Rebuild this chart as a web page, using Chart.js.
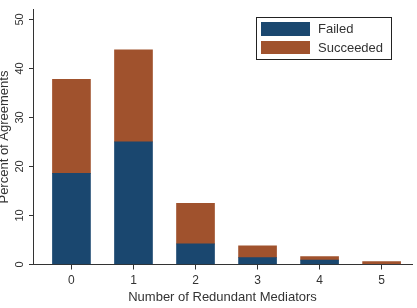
<!DOCTYPE html>
<html>
<head>
<meta charset="utf-8">
<script src="https://cdn.jsdelivr.net/npm/chart.js@4/dist/chart.umd.min.js"></script>
<style>
  html, body { margin: 0; padding: 0; background: #fff; }
</style>
</head>
<body>
<canvas id="chart" width="417" height="308"></canvas>
<script>
// number of redundant mediators on the x axis
const mediators = [0, 1, 2, 3, 4, 5];
// percent of agreements, stacked
const failed = [18.6, 25.0, 4.2, 1.4, 0.9, 0];
const succeeded = [19.2, 18.8, 8.3, 2.4, 0.7, 0.6];
const yTicks = [0, 10, 20, 30, 40, 50];

const navy = '#1a476f';
const sienna = '#a0522d';
const axisColor = '#333';

Chart.defaults.font.family = '"Liberation Sans", Arial, sans-serif';
Chart.defaults.color = '#333';

// boxed legend in the top right corner, like the Stata original
const boxLegend = {
  id: 'boxLegend',
  afterDraw(chart) {
    const ctx = chart.ctx;
    ctx.save();
    ctx.strokeStyle = '#222';
    ctx.lineWidth = 1;
    ctx.strokeRect(256.5, 17.5, 135, 42);
    const rows = [{ y: 22, h: 14 }, { y: 41, h: 13 }];
    ctx.font = '13px "Liberation Sans", Arial, sans-serif';
    ctx.textBaseline = 'middle';
    ctx.textAlign = 'left';
    chart.data.datasets.forEach((ds, i) => {
      const r = rows[i];
      ctx.fillStyle = ds.backgroundColor;
      ctx.fillRect(261, r.y, 49, r.h);
      ctx.fillStyle = '#333';
      ctx.fillText(ds.label, 318, r.y + r.h / 2 + 0.5);
    });
    ctx.restore();
  }
};

new Chart(document.getElementById('chart'), {
  type: 'bar',
  data: {
    labels: mediators,
    datasets: [
      { label: 'Failed', data: failed, backgroundColor: navy, barThickness: 38 },
      { label: 'Succeeded', data: succeeded, backgroundColor: sienna, barThickness: 38 }
    ]
  },
  options: {
    responsive: false,
    animation: false,
    layout: { padding: { top: 9, right: 5, left: 0, bottom: 0 } },
    plugins: {
      legend: { display: false },
      tooltip: { enabled: false }
    },
    scales: {
      x: {
        type: 'linear',
        stacked: true,
        offset: false,
        min: -0.62,
        max: 5.49,
        afterBuildTicks: (s) => { s.ticks = mediators.map(v => ({ value: v })); },
        afterFit: (s) => { s.height = 43.5; },
        grid: { offset: false, drawOnChartArea: false, tickLength: 5, color: axisColor },
        border: { color: axisColor },
        ticks: { font: { size: 12 }, padding: 4, color: '#333' },
        title: {
          display: true,
          text: 'Number of Redundant Mediators',
          font: { size: 13 },
          color: '#333',
          padding: { top: 0, bottom: 3 }
        }
      },
      y: {
        stacked: true,
        min: 0,
        max: 52,
        afterBuildTicks: (s) => { s.ticks = yTicks.map(v => ({ value: v })); },
        afterFit: (s) => { s.width = 33; },
        grid: { drawOnChartArea: false, tickLength: 4, color: axisColor },
        border: { color: axisColor },
        ticks: {
          font: { size: 11 },
          minRotation: 90,
          maxRotation: 90,
          crossAlign: 'center',
          padding: 3,
          color: '#333'
        },
        title: {
          display: true,
          text: 'Percent of Agreements',
          font: { size: 13 },
          color: '#333',
          padding: { top: -3, bottom: 0 }
        }
      }
    }
  },
  plugins: [boxLegend]
});
</script>
</body>
</html>
